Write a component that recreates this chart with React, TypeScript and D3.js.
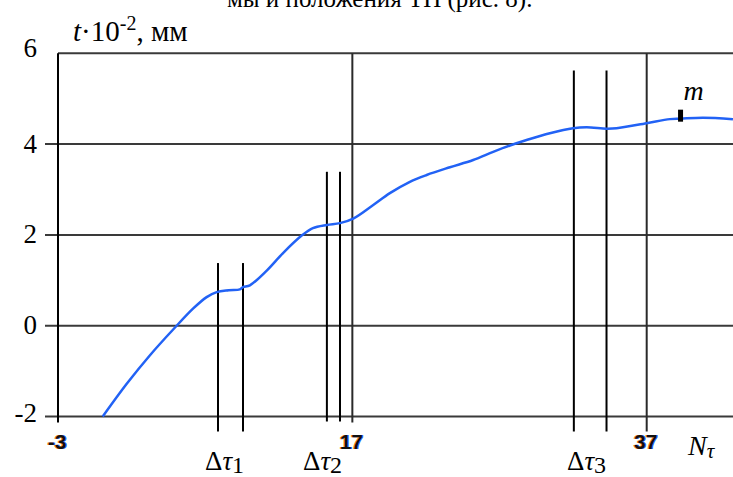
import React from "react";
import * as d3 from "d3";

// Axis ticks
const yTicks = [-2, 0, 2, 4, 6];
const xTicks = [-3, 17, 37];

// Displacement curve t(N), t in 10^-2 mm
const curveN = [0.04, 1.67, 3.25, 4.95, 6.19, 7.1, 7.78, 8.6, 9.36, 9.57, 10.04, 11.2, 12.29, 13.58, 14.32, 15.27, 16.16, 17.06, 18.42, 19.55, 20.91, 22.05, 23.63, 25.21, 26.57, 27.71, 28.84, 30.42, 32.0, 32.92, 34.28, 34.95, 36.99, 38.58, 39.3, 40.82, 42.86];
const curveT = [-2.0, -1.28, -0.65, -0.04, 0.38, 0.63, 0.74, 0.78, 0.8, 0.85, 0.89, 1.22, 1.6, 1.99, 2.15, 2.22, 2.26, 2.36, 2.66, 2.92, 3.17, 3.32, 3.49, 3.65, 3.83, 3.97, 4.09, 4.24, 4.35, 4.37, 4.34, 4.35, 4.46, 4.55, 4.56, 4.58, 4.55];

// Δτ intervals: boundaries in N and the height of their marker lines
const tauLabels = ["1", "2", "3"];
const tauBounds = [[7.87, 9.57], [15.27, 16.16], [32.05, 34.27]];
const tauTops = [1.38, 3.39, 5.62];

// Point m on the curve
const markN = 39.3;
const markT = 4.56;

const W = 733;
const H = 477;

const serif = "'Liberation Serif', 'DejaVu Serif', serif";
const sans = "'Liberation Sans', Arial, sans-serif";

export default function App() {
  const x = d3.scaleLinear().domain([-3, 37]).range([58, 646.7]);
  const y = d3.scaleLinear().domain([-2, 6]).range([416.5, 53.3]);
  const xRight = W;

  const pts = curveN.map((n, i) => [n, curveT[i]] as [number, number]);
  const line = d3
    .line<[number, number]>()
    .x((d) => x(d[0]))
    .y((d) => y(d[1]))
    .curve(d3.curveCatmullRom.alpha(0.5));

  const tauDrop = [15, 5, 15];
  const tauLabelX = [205, 303, 567];

  const yLabelDy = (v: number) => (v === 6 ? 4 : v === -2 ? 5 : 8.5);
  const serifStyle = { fontFamily: serif };

  return (
    <svg
      width={W}
      height={H}
      style={{ position: "absolute", left: 0, top: 0, background: "#fff" }}
    >
      {/* running text above the figure */}
      <text x={227} y={7} style={serifStyle} fontSize={25} fill="#000">
        мы и положения ТП (рис. 8).
      </text>

      {/* horizontal grid */}
      {yTicks.map((v) => (
        <line
          key={"h" + v}
          x1={v === 6 ? x(-3) : 45}
          x2={xRight}
          y1={y(v)}
          y2={y(v)}
          stroke="#3a3a3a"
          strokeWidth={2}
        />
      ))}

      {/* vertical grid / axis */}
      {xTicks.map((v, i) => (
        <line
          key={"v" + v}
          x1={x(v)}
          x2={x(v)}
          y1={y(6)}
          y2={y(-2) + (i === 2 ? 15 : 6)}
          stroke={i === 0 ? "#000" : "#2a2a2a"}
          strokeWidth={2}
        />
      ))}

      {/* Δτ marker lines */}
      {tauBounds.map((b, gi) =>
        b.map((n, j) => (
          <line
            key={"t" + gi + j}
            x1={x(n)}
            x2={x(n)}
            y1={y(tauTops[gi])}
            y2={y(-2) + tauDrop[gi]}
            stroke="#000"
            strokeWidth={2}
          />
        ))
      )}

      {/* curve */}
      <path d={line(pts) || ""} fill="none" stroke="#2262f5" strokeWidth={2.5} />

      {/* point m */}
      <rect
        x={x(markN) - 2.5}
        y={y(markT) - 9}
        width={5}
        height={12}
        fill="#000"
      />
      <text x={x(markN) + 3} y={100} style={serifStyle} fontStyle="italic" fontSize={28}>
        m
      </text>

      {/* y tick labels */}
      {yTicks.map((v) => (
        <text
          key={"yl" + v}
          x={37}
          y={y(v) + yLabelDy(v)}
          textAnchor="end"
          style={serifStyle}
          fontSize={27}
          fill="#000"
        >
          {v}
        </text>
      ))}

      {/* y axis title */}
      <text x={73} y={41} style={serifStyle} fontSize={29} fill="#000">
        <tspan fontStyle="italic">t</tspan>
        <tspan>·10</tspan>
        <tspan fontSize={20} dy={-11}>-2</tspan>
        <tspan dy={11}>, мм</tspan>
      </text>

      {/* x tick labels */}
      {xTicks.map((v) => (
        <text
          key={"xl" + v}
          x={x(v) - 1}
          y={449}
          textAnchor="middle"
          fill="#111"
          fontWeight="bold"
          fontSize={21}
          style={{ fontFamily: sans, textShadow: "-1px 0 #ff8a1e, 1px 0 #2a6cff" }}
        >
          {v}
        </text>
      ))}

      {/* Δτ labels */}
      {tauLabels.map((s, i) => (
        <text key={"tl" + s} x={tauLabelX[i]} y={470} style={serifStyle} fontSize={27} fill="#000">
          Δ<tspan fontStyle="italic">τ</tspan>
          <tspan fontSize={24} dy={3}>{s}</tspan>
        </text>
      ))}

      {/* x axis title */}
      <text x={688} y={455} style={serifStyle} fontSize={28} fill="#000">
        <tspan fontStyle="italic">N</tspan>
        <tspan fontStyle="italic" fontSize={21} dy={3}>τ</tspan>
      </text>
    </svg>
  );
}
